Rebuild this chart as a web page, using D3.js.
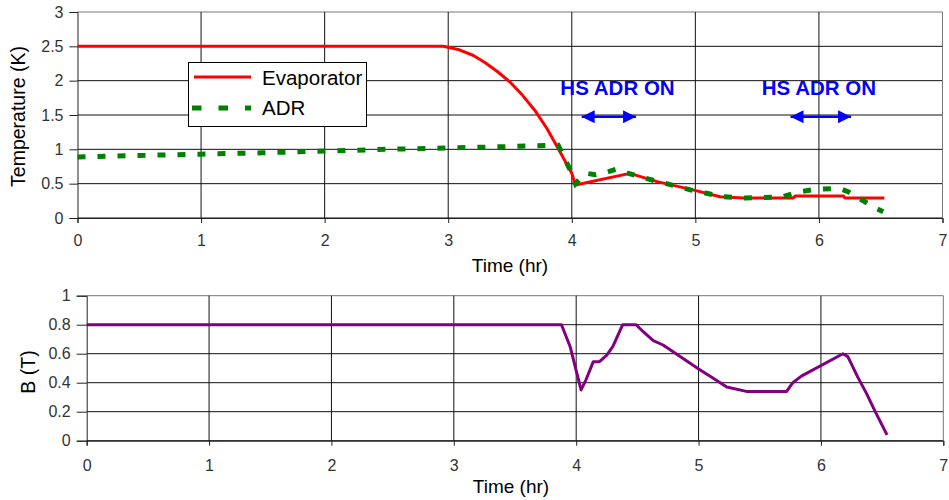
<!DOCTYPE html>
<html><head><meta charset="utf-8">
<script src="https://cdn.jsdelivr.net/npm/d3@7"></script>
<style>
html,body{margin:0;padding:0;background:#fff;}
svg{display:block;font-family:"Liberation Sans",Arial,sans-serif;}
</style></head>
<body>
<svg id="chart" width="949" height="500"></svg>
<script>
// ---- data ----
const xTicks = [0,1,2,3,4,5,6,7];
const tempTicks = [0,0.5,1,1.5,2,2.5,3];
const bTicks = [0,0.2,0.4,0.6,0.8,1];

const evapTime = [0,2.96,3.09,3.2,3.3,3.4,3.5,3.6,3.7,3.8,3.9,4.0,4.03,4.47,4.69,4.98,5.2,5.39,5.79,5.81,6.2,6.21,6.53];
const evapTemp = [2.5,2.5,2.45,2.37,2.26,2.13,1.98,1.79,1.57,1.30,0.98,0.65,0.48,0.65,0.53,0.41,0.31,0.29,0.29,0.32,0.32,0.29,0.29];

const adrTime = [0,0.5,1,1.5,2,2.5,3,3.5,3.85,3.89,3.96,4.0,4.03,4.07,4.12,4.19,4.25,4.36,4.44,4.55,4.70,4.96,5.09,5.22,5.41,5.71,5.83,5.99,6.17,6.24,6.30,6.37,6.44,6.52];
const adrTemp = [0.89,0.91,0.93,0.95,0.975,1.0,1.02,1.04,1.06,1.06,0.80,0.65,0.50,0.58,0.65,0.63,0.65,0.71,0.66,0.60,0.53,0.41,0.36,0.31,0.29,0.31,0.38,0.42,0.43,0.38,0.31,0.24,0.16,0.09];

const bTime = [0,3.88,3.95,4.04,4.08,4.14,4.19,4.25,4.30,4.38,4.49,4.55,4.63,4.71,5.01,5.12,5.23,5.39,5.72,5.77,5.84,6.18,6.22,6.30,6.37,6.45,6.54];
const bField = [0.8,0.8,0.65,0.35,0.42,0.545,0.545,0.59,0.65,0.8,0.8,0.75,0.69,0.66,0.49,0.43,0.37,0.34,0.34,0.40,0.445,0.60,0.58,0.44,0.33,0.19,0.04];

const seriesNames = ["Evaporator","ADR"];
const annotText = ["HS ADR ON","HS ADR ON"];
const annotHour = [4.37,6.0];
const arrowFrom = [4.08,5.77];
const arrowTo = [4.52,6.26];
const annotLevel = 1.79;
const arrowLevel = 1.475;

// ---- drawing ----
const svg = d3.select("#chart");
const defs = svg.append("defs");
["start","end"].forEach(k=>{
  defs.append("marker").attr("id","ah-"+k)
    .attr("viewBox","0 0 10 10").attr("refX", k==="end"?10:0).attr("refY",5)
    .attr("markerWidth",5.2).attr("markerHeight",5.2).attr("markerUnits","strokeWidth")
    .attr("orient","auto")
    .append("path").attr("d", k==="end" ? "M0,0L10,5L0,10Z" : "M10,0L0,5L10,10Z").attr("fill","#0000ff");
});

function panel(cfg){
  const x = d3.scaleLinear().domain([0,7]).range([cfg.left,cfg.right]);
  const y = d3.scaleLinear().domain([0,cfg.ymax]).range([cfg.bottom,cfg.top]);
  const g = svg.append("g");
  g.append("g").selectAll("line").data(cfg.yTicks).join("line")
    .attr("x1",cfg.left).attr("x2",cfg.right)
    .attr("y1",d=>y(d)).attr("y2",d=>y(d))
    .attr("stroke",(d,i)=> (i===cfg.yTicks.length-1)?"#777":"#111").attr("stroke-width",1);
  g.append("g").selectAll("line").data(xTicks.slice(1)).join("line")
    .attr("x1",d=>x(d)).attr("x2",d=>x(d))
    .attr("y1",cfg.top).attr("y2",cfg.bottom)
    .attr("stroke",(d,i)=> (i===xTicks.length-2)?"#777":"#111").attr("stroke-width",1);
  const ya = g.append("g").attr("transform",`translate(${cfg.left},0)`)
    .call(d3.axisLeft(y).tickValues(cfg.yTicks).tickSize(cfg.yTickLen).tickPadding(cfg.yPad).tickFormat(d3.format("")));
  const xa = g.append("g").attr("transform",`translate(0,${cfg.bottom})`)
    .call(d3.axisBottom(x).tickValues(xTicks).tickSize(5).tickPadding(cfg.xPad).tickFormat(d3.format("d")));
  [ya,xa].forEach(a=>{
    a.select(".domain").attr("stroke","#222");
    a.selectAll(".tick line").attr("stroke","#222");
    a.selectAll(".tick text").attr("fill","#333").attr("font-size",16)
      .attr("font-family","'Liberation Sans',Arial,sans-serif");
  });
  return {x,y,g};
}

// Top panel
const pTop = panel({left:77.5,right:942.5,top:12,bottom:218,ymax:3,yTicks:tempTicks,yTickLen:8,yPad:6,xPad:12});
const lineTop = d3.line().x(d=>pTop.x(d[0])).y(d=>pTop.y(d[1]));
pTop.g.append("path").datum(d3.zip(evapTime,evapTemp)).attr("d",lineTop)
  .attr("fill","none").attr("stroke","#ff0000").attr("stroke-width",3).attr("stroke-linejoin","round");
pTop.g.append("path").datum(d3.zip(adrTime,adrTemp)).attr("d",lineTop)
  .attr("fill","none").attr("stroke","#008000").attr("stroke-width",5).attr("stroke-dasharray","8,12");

pTop.g.append("text").attr("x",510).attr("y",271.5).attr("text-anchor","middle")
  .attr("font-size",19).attr("fill","#000").text("Time (hr)");
pTop.g.append("text").attr("transform","translate(25,116.5) rotate(-90)").attr("text-anchor","middle")
  .attr("font-size",19.5).attr("fill","#000").text("Temperature (K)");

annotText.forEach((t,i)=>{
  pTop.g.append("text").attr("x",pTop.x(annotHour[i])).attr("y",pTop.y(annotLevel))
    .attr("text-anchor","middle").attr("font-size",20.5).attr("font-weight","bold")
    .attr("fill","#0000ff").text(t);
  pTop.g.append("line").attr("x1",pTop.x(arrowFrom[i])).attr("x2",pTop.x(arrowTo[i]))
    .attr("y1",pTop.y(arrowLevel)).attr("y2",pTop.y(arrowLevel))
    .attr("stroke","#0000ff").attr("stroke-width",2.5)
    .attr("marker-start","url(#ah-start)").attr("marker-end","url(#ah-end)");
});

const lg = pTop.g.append("g");
lg.append("rect").attr("x",188.5).attr("y",62.5).attr("width",178).attr("height",64)
  .attr("fill","#fff").attr("stroke","#000").attr("stroke-width",1);
lg.append("line").attr("x1",194).attr("x2",251).attr("y1",77).attr("y2",77)
  .attr("stroke","#ff0000").attr("stroke-width",3);
lg.append("line").attr("x1",192).attr("x2",251).attr("y1",108).attr("y2",108)
  .attr("stroke","#008000").attr("stroke-width",5).attr("stroke-dasharray","9.5,17");
lg.append("text").attr("x",262).attr("y",84.5).attr("font-size",20.5).text(seriesNames[0]);
lg.append("text").attr("x",262).attr("y",115).attr("font-size",20.5).text(seriesNames[1]);

// Bottom panel
const pBot = panel({left:86.7,right:943.3,top:295.7,bottom:440.7,ymax:1,yTicks:bTicks,yTickLen:10,yPad:6,xPad:14});
pBot.g.append("path").datum(d3.zip(bTime,bField))
  .attr("d",d3.line().x(d=>pBot.x(d[0])).y(d=>pBot.y(d[1])))
  .attr("fill","none").attr("stroke","#800080").attr("stroke-width",3).attr("stroke-linejoin","round");
pBot.g.append("text").attr("x",511).attr("y",492.5).attr("text-anchor","middle")
  .attr("font-size",19).attr("fill","#000").text("Time (hr)");
pBot.g.append("text").attr("transform","translate(35,372) rotate(-90)").attr("text-anchor","middle")
  .attr("font-size",19.5).attr("fill","#000").text("B (T)");
</script>
</body></html>
